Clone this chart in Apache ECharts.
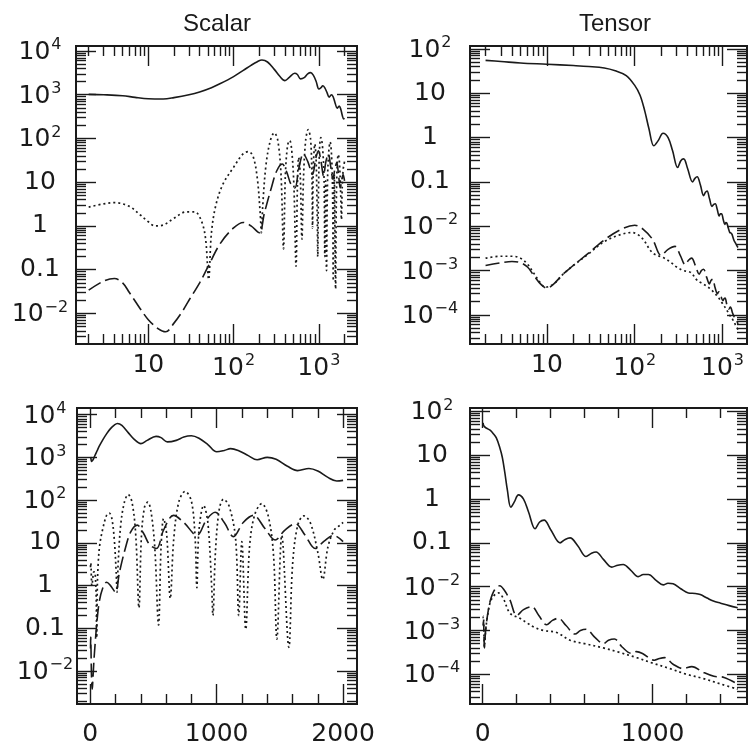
<!DOCTYPE html>
<html><head><meta charset="utf-8">
<script src="https://cdn.jsdelivr.net/npm/echarts@6/dist/echarts.min.js"></script>
<style>html,body{margin:0;padding:0;background:#fff}#c{width:748px;height:747px}</style>
</head><body><div id="c"></div>
<script>
// ---------------- DATA ----------------
// Scalar: temperature (solid)
const sTT_l = [2,3,5,7,10,15,20,30,40,55,70,100,130,160,190,215,250,300,350,400,450,520,560,610,680,740,800,860,930,1000,1060,1110,1170,1250,1320,1400,1470,1560,1640,1730,1800,1880,1950,2000];
const sTT_v = [1020,1000,950,870,810,800,860,1000,1160,1450,1800,2600,3600,4700,5700,6200,5600,3800,2600,2100,2500,3100,2900,2300,2500,3000,3200,2800,2000,1350,1450,1600,1450,1100,880,1000,900,620,490,550,480,340,280,290];
// Scalar: cross (dotted, absolute value)
const sTE_l = [2,3,4,6,8,10,12,15,20,28,35,42,47,51,55,62,75,100,130,150,170,190,205,212,220,240,270,300,330,360,385,405,430,455,480,510,540,560,580,605,633,660,700,750,800,830,843,860,897,930,960,970,990,1020,1054,1100,1150,1174,1199,1230,1260,1300,1357,1410,1450,1476,1515,1571,1600,1640,1688,1740,1800,1839,1880,1930,1976,2000];
const sTE_v = [2.7,3.2,3.4,2.8,1.8,1.25,1.0,1.05,1.5,2.1,2.1,1.3,0.5,0.06,0.7,3,9,22,45,50,38,12,2,0.7,3,25,90,135,90,15,0.3,15,70,90,55,8,0.12,8,37,15,0.5,12,90,160,95,12,0.9,20,75,30,1,0.2,6,60,105,70,12,0.2,10.7,0.095,8,45,83,40,5,0.056,15,0.036,3,25,43,30,6,1.4,8,20,26,30];
// Scalar: polarization (dashed)
const sEE_l = [2,3,4,5,6,8,10,13,16,20,25,30,40,50,70,100,130,160,200,230,277,320,372,420,470,524,580,659,740,843,920,988,1060,1133,1210,1291,1380,1462,1540,1621,1700,1779,1850,1924,2000];
const sEE_v = [0.034,0.055,0.063,0.05,0.03,0.013,0.0072,0.0045,0.0038,0.006,0.011,0.02,0.05,0.116,0.4,0.9,1.2,1.0,0.7,2.0,7.4,18,26,17,9,7.4,20,44,30,15,35,52,30,14,30,44,22,11.7,20,28,15,7.4,11,15,10.7];
// Tensor: temperature (solid)
const tTT_l = [2,3,5,10,20,30,45,60,80,100,115,130,145,165,185,210,240,270,308,335,361,400,455,485,514,560,608,640,667,710,759,795,827,870,915,945,975,1020,1062,1090,1120,1165,1210,1250,1280,1320,1357,1400,1450,1500];
const tTT_v = [55,52,48,45,42,40,37,32,25,15,9,4,1.6,0.65,0.85,1.25,1.0,0.5,0.21,0.3,0.33,0.2,0.1,0.12,0.13,0.085,0.049,0.058,0.062,0.042,0.028,0.031,0.032,0.024,0.017,0.019,0.019,0.014,0.011,0.012,0.0117,0.009,0.0072,0.0070,0.0066,0.0055,0.0047,0.0042,0.0037,0.0033];
// Tensor: E polarization (dashed)
const tEE_l = [2,3,4,5,6,7,8.6,10,12,15,19,30,45,70,100,125,160,200,240,288,330,376,410,445,490,543,575,608,660,710,740,775,820,875,905,940,1010,1040,1070,1120,1180,1230,1300,1360,1420,1500];
const tEE_v = [0.0013,0.0015,0.0016,0.0015,0.0012,0.0008,0.00048,0.0004,0.0005,0.0008,0.0012,0.0025,0.0049,0.0085,0.0105,0.0085,0.005,0.0022,0.003,0.0035,0.0022,0.00135,0.0017,0.0019,0.0013,0.00083,0.001,0.00107,0.0007,0.0005,0.0006,0.00064,0.00042,0.0003,0.00033,0.0003,0.00021,0.00023,0.00024,0.00017,0.000135,0.00015,0.00011,0.00009,0.000085,0.00006];
// Tensor: B polarization (dotted)
const tBB_l = [2,3,4,5,6,7,8.6,9.6,12,15,19,30,45,70,92,120,160,218,260,300,357,435,514,600,710,800,906,1000,1102,1200,1298,1400,1500];
const tBB_v = [0.0019,0.0021,0.0021,0.0019,0.0014,0.0009,0.0005,0.00042,0.0005,0.0008,0.0012,0.0024,0.0045,0.0065,0.0072,0.0055,0.0025,0.0019,0.0015,0.0012,0.001,0.0009,0.0006,0.0005,0.0004,0.00032,0.00024,0.00018,0.000135,0.0001,0.00008,0.00006,0.000046];

// tick values
const tlXMajor = [10,100,1000];
const trXMajor = [10,100,1000];
const sYMajor = [0.01,0.1,1,10,100,1000,10000];
const tYMajor = [0.0001,0.001,0.01,0.1,1,10,100];
const blXMajor = [0,1000,2000];
const blXMinor = [200,400,600,800,1200,1400,1600,1800];
const brXMajor = [0,1000];
const brXMinor = [200,400,600,800,1200,1400];

// ---------------- BUILD ----------------
const FONT = 'DejaVu Sans';
const INK = '#1a1a1a';
function pairs(ls, vs){ return ls.map((l,i)=>[l, vs[i]]); }
function logMinors(min, max){
  const out=[];
  for(let d=Math.floor(Math.log10(min)); d<=Math.ceil(Math.log10(max)); d++){
    for(let k=2;k<=9;k++){ const v=k*Math.pow(10,d); if(v>min && v<max) out.push(v); }
  }
  return out;
}
function logFmt(v){
  const e=Math.round(Math.log10(v));
  if(e===1) return '{b|10}';
  if(e===0) return '{b|1}';
  if(e===-1) return '{b|0.1}';
  return '{b|10}{s|'+(e<0?'\u2212':'')+Math.abs(e)+'}';
}
const rich = {
  b:{fontSize:25, fontFamily:FONT, color:INK, verticalAlign:'bottom'},
  s:{fontSize:16, fontFamily:FONT, color:INK, verticalAlign:'bottom', padding:[0,0,12,1]}
};
function axes(dim, grid, type, min, max, majors, minors, labelMargin, align){
  const pos = dim==='x' ? ['bottom','top'] : ['left','right'];
  const fmt = type==='log' ? logFmt : (v)=>'{b|'+v+'}';
  const base = (p, vals, len, showLabel) => ({
    gridIndex:grid, type:type, logBase:10, min:min, max:max, position:p,
    axisLine:{show:true, onZero:false, lineStyle:{color:INK, width:2}},
    axisTick:{show:true, inside:true, length:len, customValues:vals, lineStyle:{color:INK, width:1.4}},
    axisLabel: showLabel ? {show:true, customValues:majors, formatter:fmt, rich:rich, margin:labelMargin,
      align: align, fontSize:25, fontFamily:FONT, color:INK, showMinLabel:true, showMaxLabel:true} : {show:false},
    splitLine:{show:false}, minorTick:{show:false}
  });
  return [
    base(pos[0], majors, 20, true),
    base(pos[0], minors, 10, false),
    base(pos[1], majors, 20, false),
    base(pos[1], minors, 10, false)
  ];
}
const grids = [
  {left:76, top:46, width:281, height:298},
  {left:470, top:46, width:277, height:298},
  {left:77, top:408, width:280, height:299},
  {left:470, top:408, width:277, height:299}
];
const xr = [[1.42,2800],[1.33,1900],[-105,2110],[-75,1555]];
const yr = [[0.002,13000],[0.000022,116],[0.0017,14300],[0.000021,120]];
let xAxes=[], yAxes=[];
xAxes = xAxes.concat(axes('x',0,'log',xr[0][0],xr[0][1],tlXMajor,logMinors(xr[0][0],xr[0][1]),9));
xAxes = xAxes.concat(axes('x',1,'log',xr[1][0],xr[1][1],trXMajor,logMinors(xr[1][0],xr[1][1]),9));
xAxes = xAxes.concat(axes('x',2,'value',xr[2][0],xr[2][1],blXMajor,blXMinor,18));
xAxes = xAxes.concat(axes('x',3,'value',xr[3][0],xr[3][1],brXMajor,brXMinor,18));
yAxes = yAxes.concat(axes('y',0,'log',yr[0][0],yr[0][1],sYMajor,logMinors(yr[0][0],yr[0][1]),36,'center'));
yAxes = yAxes.concat(axes('y',1,'log',yr[1][0],yr[1][1],tYMajor,logMinors(yr[1][0],yr[1][1]),40,'center'));
yAxes = yAxes.concat(axes('y',2,'log',yr[2][0],yr[2][1],sYMajor,logMinors(yr[2][0],yr[2][1]),32,'center'));
yAxes = yAxes.concat(axes('y',3,'log',yr[3][0],yr[3][1],tYMajor,logMinors(yr[3][0],yr[3][1]),38,'center'));

const SOLID='solid', DOT=[2,3], DASH=[14,5];
function line(grid, data, dash, w){
  return {type:'line', xAxisIndex:grid*4, yAxisIndex:grid*4, data:data, symbol:'none', showSymbol:false,
    smooth:0.35, clip:true, silent:true, animation:false,
    lineStyle:{color:INK, width:w||1.5, type:dash}};
}
const series = [];
[0,2].forEach(g=>{
  series.push(line(g, pairs(sTT_l,sTT_v), SOLID, 1.6));
  series.push(line(g, pairs(sTE_l,sTE_v), DOT, 1.7));
  series.push(line(g, pairs(sEE_l,sEE_v), DASH, 1.6));
});
[1,3].forEach(g=>{
  series.push(line(g, pairs(tTT_l,tTT_v), SOLID, 1.6));
  series.push(line(g, pairs(tEE_l,tEE_v), DASH, 1.6));
  series.push(line(g, pairs(tBB_l,tBB_v), DOT, 1.7));
});

const chart = echarts.init(document.getElementById('c'), null, {renderer:'canvas'});
chart.setOption({
  animation:false,
  backgroundColor:'#fff',
  title:[
    {text:'Scalar', left:212, top:7, textAlign:'center', textStyle:{fontSize:24, fontWeight:'normal', fontFamily:'Liberation Sans', color:INK}},
    {text:'Tensor', left:610, top:7, textAlign:'center', textStyle:{fontSize:24, fontWeight:'normal', fontFamily:'Liberation Sans', color:INK}}
  ],
  grid:grids,
  xAxis:xAxes,
  yAxis:yAxes,
  series:series
});
</script>
</body></html>
